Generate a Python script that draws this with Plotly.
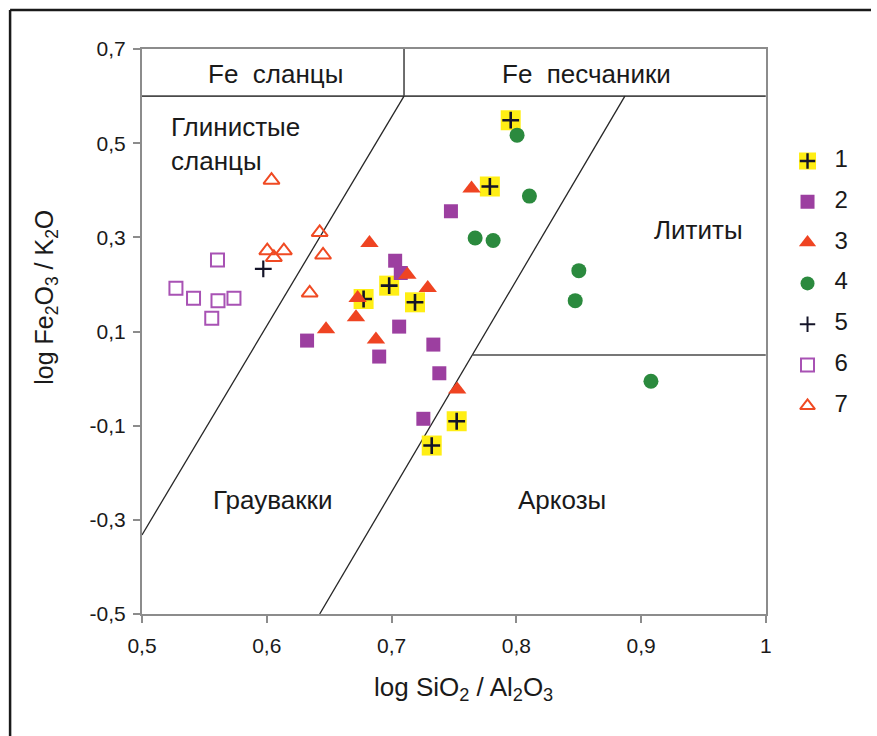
import plotly.graph_objects as go

# --- data: log SiO2/Al2O3 (x) vs log Fe2O3/K2O (y) for each sample group ---
g1_x = [0.7955, 0.7788, 0.6776, 0.6981, 0.7188, 0.7522, 0.7322]
g1_y = [0.5488, 0.4080, 0.1690, 0.1974, 0.1620, -0.0906, -0.1422]

g2_x = [0.7476, 0.7029, 0.7074, 0.7061, 0.6323, 0.6901, 0.7335, 0.7383, 0.7255]
g2_y = [0.3554, 0.2504, 0.2243, 0.1104, 0.0807, 0.0468, 0.0722, 0.0113, -0.0854]

g3_x = [0.6823, 0.7127, 0.7290, 0.6728, 0.6715, 0.6475, 0.6875, 0.7526, 0.7641]
g3_y = [0.2879, 0.2207, 0.1925, 0.1713, 0.1301, 0.1047, 0.0828, -0.0232, 0.4037]

g4_x = [0.8006, 0.8105, 0.7670, 0.7814, 0.8501, 0.8472, 0.9079]
g4_y = [0.5170, 0.3876, 0.2985, 0.2934, 0.2292, 0.1655, -0.0057]

g5_x = [0.5972]
g5_y = [0.2328]

g6_x = [0.5605, 0.5272, 0.5413, 0.5609, 0.5737, 0.5559]
g6_y = [0.2519, 0.1916, 0.1704, 0.1655, 0.1704, 0.1280]

g7_x = [0.6038, 0.6424, 0.6004, 0.6057, 0.6137, 0.6451, 0.6344]
g7_y = [0.4215, 0.3104, 0.2716, 0.2574, 0.2716, 0.2625, 0.1819]

legend_labels = ["1", "2", "3", "4", "5", "6", "7"]

# field boundaries of the classification diagram
header_y = 0.6
header_split_x = 0.71
line1_x = [0.5, 0.71]
line1_y = [-0.332, 0.6]
line2_x = [0.6424, 0.887]
line2_y = [-0.5, 0.6]
lith_y = 0.05

x_ticks = [0.5, 0.6, 0.7, 0.8, 0.9, 1.0]
x_tick_text = ["0,5", "0,6", "0,7", "0,8", "0,9", "1"]
y_ticks = [-0.5, -0.3, -0.1, 0.1, 0.3, 0.5, 0.7]
y_tick_text = ["-0,5", "-0,3", "-0,1", "0,1", "0,3", "0,5", "0,7"]

FONT = "Liberation Sans, Arial, sans-serif"
YELLOW = "#FFEE14"
PURPLE = "#9C3FA0"
RED = "#EF4422"
GREEN = "#2B8A3E"
PLUS = "#141428"
OPEN_PURPLE = "#A852B4"
OPEN_RED = "#F04A23"

W, H = 877, 736
L, T, B = 142, 49, 122
PLOT_R = 771  # right edge of the diagram in px
BOTTOM = H - B
paper_w = W - L
ph = H - T - B
dom_end = (PLOT_R - L) / paper_w

fig = go.Figure()

# boundary lines
def seg(xs, ys, color="#262626", width=1.3):
    fig.add_trace(go.Scatter(x=xs, y=ys, mode="lines", line=dict(color=color, width=width),
                             hoverinfo="skip", showlegend=False))

seg([0.5, 1.0], [header_y, header_y], color="#4a4a4a", width=1.6)
seg([header_split_x, header_split_x], [header_y, 0.7], color="#4a4a4a", width=1.6)
seg(line1_x, line1_y)
seg(line2_x, line2_y)
x_int = line2_x[1] - (line2_y[1] - lith_y) * (line2_x[1] - line2_x[0]) / (line2_y[1] - line2_y[0])
seg([x_int, 1.0], [lith_y, lith_y], color="#4a4a4a", width=1.6)

def pts(xs, ys, **marker):
    fig.add_trace(go.Scatter(x=xs, y=ys, mode="markers", marker=marker,
                             hoverinfo="x+y", showlegend=False))

pts(g7_x, g7_y, symbol="triangle-up-open", size=14, color=OPEN_RED, line=dict(width=2, color=OPEN_RED))
pts(g6_x, g6_y, symbol="square-open", size=13, color=OPEN_PURPLE, line=dict(width=2, color=OPEN_PURPLE))
pts(g5_x, g5_y, symbol="cross-thin", size=12, line=dict(width=2.2, color=PLUS))
pts(g1_x, g1_y, symbol="square", size=20, color=YELLOW, line=dict(width=0))
pts(g1_x, g1_y, symbol="cross-thin", size=12, line=dict(width=2.6, color=PLUS))
pts(g2_x, g2_y, symbol="square", size=14, color=PURPLE, line=dict(width=0))
pts(g3_x, g3_y, symbol="triangle-up", size=16, color=RED, line=dict(width=0))
pts(g4_x, g4_y, symbol="circle", size=15, color=GREEN, line=dict(width=0))

# legend drawn on its own pixel-scaled axes to the right of the diagram
leg_x = 813
leg_text_x = 847
leg_y = [161 + 40.8 * i for i in range(len(legend_labels))]
leg_markers = [
    dict(symbol="square", size=17, color=YELLOW, line=dict(width=0)),
    dict(symbol="square", size=14, color=PURPLE, line=dict(width=0)),
    dict(symbol="triangle-up", size=15, color=RED, line=dict(width=0)),
    dict(symbol="circle", size=14, color=GREEN, line=dict(width=0)),
    dict(symbol="cross-thin", size=11, line=dict(width=2, color=PLUS)),
    dict(symbol="square-open", size=13, color=OPEN_PURPLE, line=dict(width=2, color=OPEN_PURPLE)),
    dict(symbol="triangle-up-open", size=13, color=OPEN_RED, line=dict(width=2, color=OPEN_RED)),
]
for yy, mk in zip(leg_y, leg_markers):
    fig.add_trace(go.Scatter(x=[leg_x], y=[yy], mode="markers", marker=mk, xaxis="x2", yaxis="y2",
                             hoverinfo="skip", showlegend=False))
fig.add_trace(go.Scatter(x=[leg_x], y=[leg_y[0]], mode="markers", xaxis="x2", yaxis="y2",
                         marker=dict(symbol="cross-thin", size=11, line=dict(width=2.4, color=PLUS)),
                         hoverinfo="skip", showlegend=False))
fig.add_trace(go.Scatter(x=[leg_text_x] * len(legend_labels), y=leg_y, mode="text", text=legend_labels,
                         textfont=dict(family=FONT, size=24, color="#1a1a1a"), xaxis="x2", yaxis="y2",
                         hoverinfo="skip", showlegend=False))

# field names
region_font = dict(family=FONT, size=26, color="#1a1a1a")
labels = [
    (0.607, 0.647, "Fe\u00a0 сланцы", "center"),
    (0.8562, 0.647, "Fe\u00a0 песчаники", "center"),
    (0.9457, 0.316, "Лититы", "center"),
    (0.6046, -0.2586, "Граувакки", "center"),
    (0.8363, -0.2586, "Аркозы", "center"),
]
ann = []
for x, y, t, a in labels:
    ann.append(dict(x=x, y=y, xref="x", yref="y", text=t, showarrow=False, font=region_font,
                    xanchor=a, yanchor="middle"))
ann.append(dict(x=0.5216, y=0.4985, xref="x", yref="y", text="Глинистые<br>сланцы", showarrow=False,
                font=region_font, xanchor="left", yanchor="middle", align="left"))

# axis titles
ann.append(dict(x=(466 - L) / paper_w, y=(BOTTOM - 688) / ph, xref="paper", yref="paper",
                text="log SiO<sub>2</sub> / Al<sub>2</sub>O<sub>3</sub>", showarrow=False,
                font=dict(family=FONT, size=26, color="#1a1a1a"), xanchor="center", yanchor="middle"))
ann.append(dict(x=(45 - L) / paper_w, y=(BOTTOM - 297) / ph, xref="paper", yref="paper",
                text="log Fe<sub>2</sub>O<sub>3</sub> / K<sub>2</sub>O", showarrow=False, textangle=-90,
                font=dict(family=FONT, size=25, color="#1a1a1a"), xanchor="center", yanchor="middle"))

# outer frame (top and left edges)
frame = [
    dict(type="line", xref="paper", yref="paper", x0=(9 - L) / paper_w, x1=1.0,
         y0=(BOTTOM - 10) / ph, y1=(BOTTOM - 10) / ph, line=dict(color="#1a1a1a", width=2.5)),
    dict(type="line", xref="paper", yref="paper", x0=(9 - L) / paper_w, x1=(9 - L) / paper_w,
         y0=(BOTTOM - 10) / ph, y1=(BOTTOM - 740) / ph, line=dict(color="#1a1a1a", width=2.5)),
]

axis_common = dict(showgrid=False, zeroline=False, showline=True, linecolor="#8c8c8c", linewidth=2,
                   mirror=True, ticks="outside", ticklen=7, tickwidth=1.5, tickcolor="#8c8c8c",
                   tickfont=dict(family=FONT, size=21, color="#1a1a1a"))

fig.update_layout(
    width=W, height=H,
    margin=dict(l=L, r=0, t=T, b=B, pad=0),
    paper_bgcolor="white", plot_bgcolor="white",
    showlegend=False,
    xaxis=dict(range=[0.5, 1.0], domain=[0, dom_end], tickvals=x_ticks, ticktext=x_tick_text,
               ticklabelstandoff=5, **axis_common),
    yaxis=dict(range=[-0.5, 0.7], tickvals=y_ticks, ticktext=y_tick_text, ticklabelstandoff=3,
               **axis_common),
    xaxis2=dict(domain=[dom_end, 1.0], range=[PLOT_R, W], visible=False, anchor="y2"),
    yaxis2=dict(domain=[0, 1], range=[BOTTOM, T], visible=False, anchor="x2"),
    annotations=ann,
    shapes=frame,
)

fig.write_html("out.html")
